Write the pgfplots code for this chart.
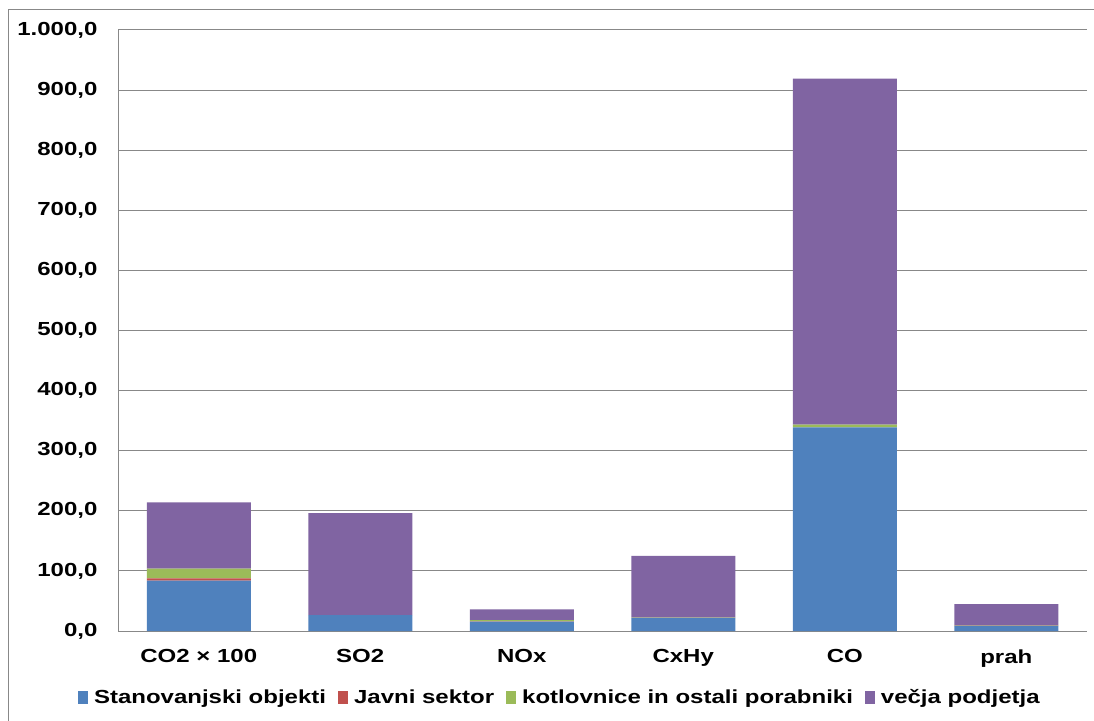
\documentclass[border=0pt]{standalone}
\usepackage{pgfplots}
\pgfplotsset{compat=1.18}
\usepackage{fontspec}
\setmainfont{Liberation Sans}[FakeStretch=1.27,BoldFeatures={FakeStretch=1.27}]
\definecolor{cBlue}{HTML}{4F81BD}
\definecolor{cRed}{HTML}{C0504D}
\definecolor{cGreen}{HTML}{9BBB59}
\definecolor{cPurple}{HTML}{8064A2}
\definecolor{cGrid}{RGB}{136,136,136}
\begin{document}
\begin{tikzpicture}
\path[use as bounding box] (0pt,0pt) rectangle (1094pt,720pt);
\draw[cGrid,line width=1pt] (8pt,-2pt) -- (8pt,710pt) -- (1096pt,710pt);
\begin{axis}[
  at={(118pt,89pt)}, anchor=south west,
  scale only axis, width=969pt, height=601pt,
  ybar stacked, bar width=104pt,
  xmin=-0.5, xmax=5.5, ymin=0, ymax=1000,
  xtick=data,
  xticklabels={CO2 × 100, SO2, NOx, CxHy, CO, prah},
  ytick={0,100,...,1000},
  ymajorgrids, grid style={cGrid,line width=1pt},
  axis lines*=left, axis line style={cGrid,line width=1pt,-},
  major tick length=0pt,
  tick label style={font=\bfseries\fontsize{18.9}{20}\selectfont},
  yticklabel style={xshift=-17pt},
  xticklabel style={yshift=-15pt},
  /pgf/number format/assume math mode=true,
  /pgf/number format/.cd, use comma, 1000 sep={.}, fixed, fixed zerofill, precision=1,
  /pgfplots/.cd,
  legend columns=-1,
  legend style={at={(0.456,-0.11)}, anchor=center, draw=none,
    font=\bfseries\fontsize{18.9}{20}\selectfont,
    /tikz/every odd column/.append style={column sep=4pt},
    /tikz/every even column/.append style={column sep=10pt},
    inner sep=0pt},
  legend image code/.code={\fill[#1] (0pt,-6.5pt) rectangle (10pt,6.5pt);},
]
\addplot[fill=cBlue, draw=none] coordinates {(0,83.7) (1,26.6) (2,15.5) (3,21.6) (4,339) (5,8.3)};
\addplot[fill=cRed, draw=none] coordinates {(0,4) (1,0) (2,0.5) (3,0) (4,0) (5,0.3)};
\addplot[fill=cGreen, draw=none] coordinates {(0,16) (1,0) (2,2) (3,0.5) (4,4.5) (5,0.3)};
\addplot[fill=cPurple, draw=none] coordinates {(0,110.3) (1,169.4) (2,18) (3,103) (4,575.5) (5,36)};
\legend{Stanovanjski objekti, Javni sektor, kotlovnice in ostali porabniki, večja podjetja}
\end{axis}
\end{tikzpicture}
\end{document}
